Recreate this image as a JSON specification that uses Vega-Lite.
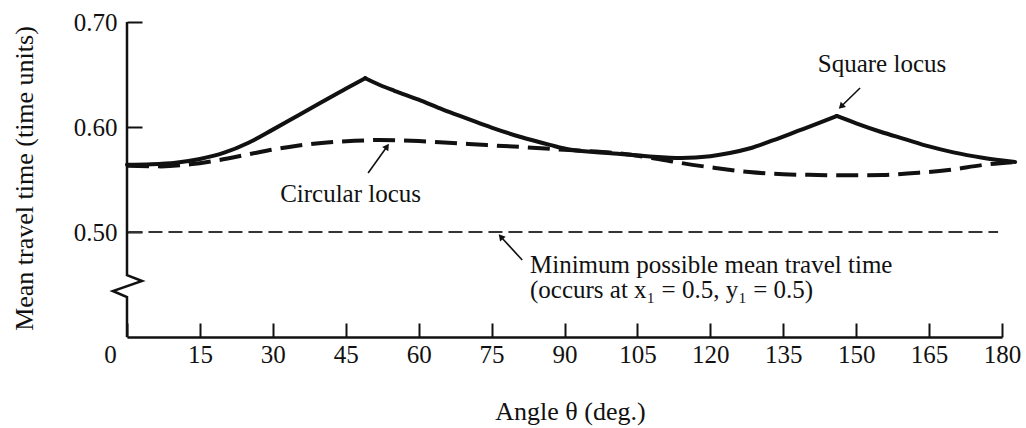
{
  "$schema": "https://vega.github.io/schema/vega-lite/v6.json",
  "width": 875,
  "height": 315,
  "autosize": {"type": "none"},
  "padding": {"left": 127, "top": 22, "right": 24, "bottom": 91},
  "background": "white",
  "config": {"view": {"stroke": null}, "font": "Liberation Serif"},
  "datasets": {
    "square": [
      {"seg": "a", "theta": 0, "value": 0.564}, {"seg": "a", "theta": 5, "value": 0.5645}, {"seg": "a", "theta": 10, "value": 0.566},
      {"seg": "a", "theta": 15, "value": 0.5695}, {"seg": "a", "theta": 20, "value": 0.5755}, {"seg": "a", "theta": 25, "value": 0.585},
      {"seg": "a", "theta": 30, "value": 0.5975}, {"seg": "a", "theta": 35, "value": 0.6105}, {"seg": "a", "theta": 40, "value": 0.6235},
      {"seg": "a", "theta": 45, "value": 0.6365}, {"seg": "a", "theta": 49, "value": 0.6465},
      {"seg": "b", "theta": 49, "value": 0.6465}, {"seg": "b", "theta": 52, "value": 0.640},
      {"seg": "b", "theta": 55, "value": 0.6345}, {"seg": "b", "theta": 60, "value": 0.626}, {"seg": "b", "theta": 65, "value": 0.6165},
      {"seg": "b", "theta": 70, "value": 0.608}, {"seg": "b", "theta": 75, "value": 0.5995}, {"seg": "b", "theta": 81, "value": 0.5905},
      {"seg": "b", "theta": 87, "value": 0.583}, {"seg": "b", "theta": 91, "value": 0.5785}, {"seg": "b", "theta": 96, "value": 0.5762},
      {"seg": "b", "theta": 101, "value": 0.5745}, {"seg": "b", "theta": 107, "value": 0.5722}, {"seg": "b", "theta": 114, "value": 0.5705},
      {"seg": "b", "theta": 120, "value": 0.5722}, {"seg": "b", "theta": 124, "value": 0.5752}, {"seg": "b", "theta": 128, "value": 0.5795},
      {"seg": "b", "theta": 133, "value": 0.5875}, {"seg": "b", "theta": 138, "value": 0.5962}, {"seg": "b", "theta": 142, "value": 0.6032},
      {"seg": "b", "theta": 146, "value": 0.6105},
      {"seg": "c", "theta": 146, "value": 0.6105}, {"seg": "c", "theta": 150, "value": 0.6035}, {"seg": "c", "theta": 155, "value": 0.5955},
      {"seg": "c", "theta": 160, "value": 0.5885}, {"seg": "c", "theta": 165, "value": 0.5815}, {"seg": "c", "theta": 170, "value": 0.5758},
      {"seg": "c", "theta": 176, "value": 0.5707}, {"seg": "c", "theta": 182.7, "value": 0.5667}
    ],
    "circular": [
      {"theta": 0, "value": 0.563}, {"theta": 7, "value": 0.5625}, {"theta": 13, "value": 0.5645},
      {"theta": 19, "value": 0.5686}, {"theta": 25, "value": 0.574}, {"theta": 30, "value": 0.5785},
      {"theta": 35, "value": 0.5822}, {"theta": 40, "value": 0.5848}, {"theta": 46, "value": 0.5866},
      {"theta": 52, "value": 0.5876}, {"theta": 60, "value": 0.5866}, {"theta": 67, "value": 0.5848},
      {"theta": 74, "value": 0.5828}, {"theta": 81, "value": 0.581}, {"theta": 91, "value": 0.578},
      {"theta": 101, "value": 0.575}, {"theta": 108, "value": 0.5705}, {"theta": 114, "value": 0.5657},
      {"theta": 121, "value": 0.561}, {"theta": 128, "value": 0.5571}, {"theta": 135, "value": 0.555},
      {"theta": 142, "value": 0.5543}, {"theta": 149, "value": 0.554}, {"theta": 155.5, "value": 0.5543},
      {"theta": 162, "value": 0.5562}, {"theta": 169, "value": 0.559}, {"theta": 176, "value": 0.5638},
      {"theta": 182.7, "value": 0.5667}
    ],
    "minimum": [
      {"theta": 0.3, "value": 0.5}, {"theta": 179.2, "value": 0.5}
    ],
    "yaxis": [
      {"theta": 0, "value": 0.7, "order": 1}, {"theta": 0, "value": 0.459, "order": 2},
      {"theta": 3.1, "value": 0.4533, "order": 3}, {"theta": -2.9, "value": 0.4438, "order": 4},
      {"theta": 0, "value": 0.4381, "order": 5}, {"theta": 0, "value": 0.4, "order": 6}
    ],
    "arrows": [
      {"name": "square", "theta": 150.8, "value": 0.6371, "theta_end": 146.9, "value_end": 0.6195},
      {"name": "circular", "theta": 49.6, "value": 0.5562, "theta_end": 53.5, "value_end": 0.5815},
      {"name": "minimum", "theta": 81.3, "value": 0.4733, "theta_end": 76.9, "value_end": 0.4955}
    ],
    "labels": [
      {"theta": 142.1, "value": 0.6524, "text": "Square locus"},
      {"theta": 31.5, "value": 0.5286, "text": "Circular locus"},
      {"theta": 82.9, "value": 0.4605, "text": "Minimum possible mean travel time\n(occurs at x₁ = 0.5, y₁ = 0.5)"}
    ]
  },
  "layer": [
    {
      "data": {"name": "minimum"},
      "mark": {"type": "line", "stroke": "#333", "strokeWidth": 1.8, "strokeDash": [14, 6]},
      "encoding": {
        "x": {
          "field": "theta", "type": "quantitative",
          "scale": {"domain": [0, 180], "nice": false, "zero": false},
          "axis": {
            "title": "Angle θ (deg.)",
            "values": [0, 15, 30, 45, 60, 75, 90, 105, 120, 135, 150, 165, 180],
            "format": "d",
            "grid": false,
            "domainColor": "#111", "domainWidth": 2.5,
            "tickColor": "#111", "tickWidth": 2, "tickSize": -14,
            "labelFont": "Liberation Serif", "labelFontSize": 25, "labelColor": "#111",
            "labelBaseline": "top", "labelPadding": 19,
            "labelFlush": false, "labelOverlap": false, "labelBound": false,
            "labelOffset": {"condition": {"test": "datum.value === 0", "value": -17}, "value": 0},
            "titleFont": "Liberation Serif", "titleFontSize": 26, "titleFontWeight": "normal", "titleColor": "#111",
            "titleX": 443, "titleY": 82, "titleBaseline": "alphabetic", "titleAlign": "center"
          }
        },
        "y": {
          "field": "value", "type": "quantitative",
          "scale": {"domain": [0.4, 0.7], "nice": false, "zero": false},
          "axis": {
            "title": "Mean travel time (time units)",
            "values": [0.5, 0.6, 0.7],
            "format": ".2f",
            "grid": false,
            "domain": false,
            "tickColor": "#111", "tickWidth": 2, "tickSize": -15,
            "labelFont": "Liberation Serif", "labelFontSize": 25, "labelColor": "#111",
            "labelBaseline": "middle", "labelPadding": 25,
            "labelFlush": false, "labelOverlap": false, "labelBound": false,
            "titleFont": "Liberation Serif", "titleFontSize": 26, "titleFontWeight": "normal", "titleColor": "#111",
            "titleX": -95, "titleY": 156, "titleBaseline": "alphabetic", "titleAlign": "center", "titleAngle": -90
          }
        }
      }
    },
    {
      "data": {"name": "yaxis"},
      "mark": {"type": "line", "stroke": "#111", "strokeWidth": 2.5, "strokeJoin": "miter"},
      "encoding": {
        "x": {"field": "theta", "type": "quantitative"},
        "y": {"field": "value", "type": "quantitative"},
        "order": {"field": "order", "type": "quantitative"}
      }
    },
    {
      "data": {"name": "circular"},
      "mark": {"type": "line", "stroke": "#111", "strokeWidth": 4, "strokeDash": [22, 9], "interpolate": "monotone"},
      "encoding": {
        "x": {"field": "theta", "type": "quantitative"},
        "y": {"field": "value", "type": "quantitative"}
      }
    },
    {
      "data": {"name": "square"},
      "mark": {"type": "line", "stroke": "#111", "strokeWidth": 4, "interpolate": "monotone", "strokeCap": "round"},
      "encoding": {
        "x": {"field": "theta", "type": "quantitative"},
        "y": {"field": "value", "type": "quantitative"},
        "detail": {"field": "seg", "type": "nominal"}
      }
    },
    {
      "data": {"name": "arrows"},
      "mark": {"type": "rule", "stroke": "#111", "strokeWidth": 1.6},
      "encoding": {
        "x": {"field": "theta", "type": "quantitative"},
        "y": {"field": "value", "type": "quantitative"},
        "x2": {"field": "theta_end"},
        "y2": {"field": "value_end"}
      }
    },
    {
      "data": {"name": "arrows"},
      "transform": [{"filter": "datum.name === 'square'"}],
      "mark": {"type": "point", "shape": "triangle-up", "filled": true, "color": "#111", "size": 55, "angle": 225, "opacity": 1},
      "encoding": {
        "x": {"field": "theta_end", "type": "quantitative"},
        "y": {"field": "value_end", "type": "quantitative"}
      }
    },
    {
      "data": {"name": "arrows"},
      "transform": [{"filter": "datum.name === 'circular'"}],
      "mark": {"type": "point", "shape": "triangle-up", "filled": true, "color": "#111", "size": 55, "angle": 35, "opacity": 1},
      "encoding": {
        "x": {"field": "theta_end", "type": "quantitative"},
        "y": {"field": "value_end", "type": "quantitative"}
      }
    },
    {
      "data": {"name": "arrows"},
      "transform": [{"filter": "datum.name === 'minimum'"}],
      "mark": {"type": "point", "shape": "triangle-up", "filled": true, "color": "#111", "size": 55, "angle": 319, "opacity": 1},
      "encoding": {
        "x": {"field": "theta_end", "type": "quantitative"},
        "y": {"field": "value_end", "type": "quantitative"}
      }
    },
    {
      "data": {"name": "labels"},
      "mark": {"type": "text", "align": "left", "baseline": "alphabetic", "font": "Liberation Serif", "fontSize": 25, "color": "#111", "lineBreak": "\n", "lineHeight": 25},
      "encoding": {
        "x": {"field": "theta", "type": "quantitative"},
        "y": {"field": "value", "type": "quantitative"},
        "text": {"field": "text"}
      }
    }
  ]
}
